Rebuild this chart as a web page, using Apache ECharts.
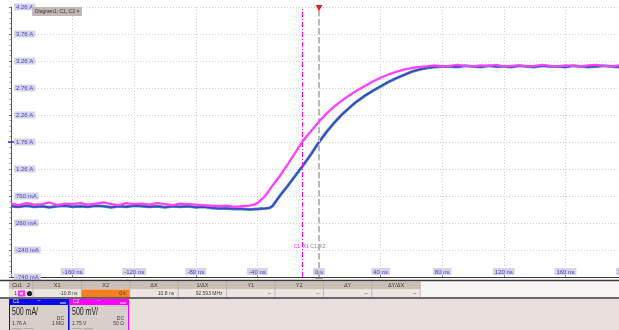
<!DOCTYPE html>
<html><head><meta charset="utf-8">
<script src="https://cdn.jsdelivr.net/npm/echarts@6/dist/echarts.min.js"></script>
<style>html,body{margin:0;padding:0;background:#fff;overflow:hidden}#c{width:619px;height:330px}</style>
</head><body><div id="c"></div>
<script>
// ---- axis ticks ----
const xTickValues = [-200,-160,-120,-80,-40,0,40,80,120,160,200];
const xTickLabels = ['', '-160 ns','-120 ns','-80 ns','-40 ns','0 s','40 ns','80 ns','120 ns','160 ns','200 ns'];
const yTickLabels = ['-740 mA','-240 mA','260 mA','760 mA','1.26 A','1.76 A','2.26 A','2.76 A','3.26 A','3.76 A','4.26 A']; // bottom -> top
const c1Offset = 1.76, c1PerDiv = 0.5;   // A
const c2Offset = 1.75, c2PerDiv = 0.5;   // V

// ---- C1 current (A) ----
const c1Time = [-200,-195,-190,-185,-180,-175,-170,-165,-160,-155,-150,-145,-140,-135,-130,-125,-120,-115,-110,-105,-100,-95,-90,-85,-80,-75,-70,-65,-60,-55,-50,-45,-40,-35,
  -32,-30,-28,-25,-20,-15,-11,-5,0,5,10,15,20,25,30,35,40,45,50,55,60,65,70,75,80,
  85,90,95,100,105,110,115,120,125,130,135,140,145,150,155,160,165,170,175,180,185,190,195,200];
const c1Amps = [0.57,0.56,0.58,0.56,0.57,0.55,0.57,0.58,0.56,0.57,0.56,0.58,0.57,0.55,0.57,0.56,0.58,0.57,0.56,0.57,0.55,0.57,0.56,0.57,0.55,0.56,0.54,0.53,0.53,0.52,0.52,0.51,0.52,0.53,
  0.54,0.58,0.66,0.78,0.96,1.15,1.30,1.54,1.76,1.95,2.12,2.27,2.40,2.52,2.62,2.71,2.79,2.87,2.94,3.00,3.06,3.10,3.13,3.15,3.16,
  3.16,3.15,3.17,3.16,3.15,3.17,3.16,3.16,3.15,3.17,3.16,3.15,3.17,3.16,3.16,3.15,3.17,3.16,3.15,3.16,3.17,3.16,3.15,3.16];

// ---- C2 voltage (V) ----
const c2Time = [-200,-195,-190,-185,-180,-175,-170,-165,-160,-155,-150,-145,-140,-135,-130,-125,-120,-115,-110,-105,-100,-95,-90,-85,-80,-75,-70,-65,-60,-55,-50,-45,
  -42,-40,-38,-36,-33,-30,-25,-20,-15,-11,-5,0,5,10,15,20,25,30,35,40,45,50,55,60,65,70,
  75,80,85,90,95,100,105,110,115,120,125,130,135,140,145,150,155,160,165,170,175,180,185,190,195,200];
const c2Volts = [0.61,0.58,0.62,0.59,0.60,0.63,0.58,0.61,0.60,0.62,0.59,0.61,0.63,0.60,0.58,0.62,0.60,0.61,0.59,0.62,0.60,0.58,0.61,0.60,0.59,0.58,0.57,0.56,0.57,0.55,0.56,0.57,
  0.59,0.62,0.67,0.72,0.83,0.95,1.14,1.35,1.57,1.75,1.96,2.13,2.28,2.41,2.52,2.62,2.71,2.79,2.87,2.94,3.00,3.05,3.09,3.12,3.14,3.15,
  3.17,3.15,3.16,3.18,3.16,3.15,3.17,3.16,3.18,3.15,3.16,3.17,3.15,3.16,3.18,3.16,3.15,3.17,3.16,3.15,3.17,3.18,3.16,3.15,3.17,3.16];

// ---- cursors ----
const cursorX1 = -10.8, cursorX2 = 0;
const tableHeaders = ['X1','X2','\u0394X','1/\u0394X','Y1','Y2','\u0394Y','\u0394Y/\u0394X'];
const tableValues = ['-10.8 ns','0 s','10.8 ns','92.593 MHz','--','--','--','--'];

const c1Data = c1Time.map((t,i)=>[t,(c1Amps[i]-c1Offset)/c1PerDiv]);
const c2Data = c2Time.map((t,i)=>[t,(c2Volts[i]-c2Offset)/c2PerDiv]);

const FONT = '"Liberation Sans", Arial, sans-serif';
const chart = echarts.init(document.getElementById('c'), null, {renderer:'canvas', width:619, height:330});
chart.setOption({
  animation:false,
  backgroundColor:'#ffffff',
  grid:{left:11, right:-8, top:7, bottom:53, containLabel:false, outerBoundsMode:'none'},
  xAxis:{type:'value', min:-200, max:200, interval:40,
    axisLine:{show:true, onZero:false, lineStyle:{color:'#3a3a3a', width:1}},
    axisTick:{show:true, inside:true, length:2, lineStyle:{color:'#888'}},
    splitLine:{show:true, lineStyle:{color:'#cfcfcf', type:[1,2], width:1}},
    axisLabel:{inside:true, margin:2, fontSize:6, fontFamily:FONT, color:'#4646dc', backgroundColor:'#d4d4e4', padding:[1,2,0,2],
      showMinLabel:true, showMaxLabel:true, hideOverlap:false,
      formatter:v=>{const i=xTickValues.indexOf(Math.round(v)); return i<0?'':xTickLabels[i];}}
  },
  yAxis:{type:'value', min:-5, max:5, interval:1,
    axisLine:{show:true, onZero:false, lineStyle:{color:'#555', width:1}},
    axisTick:{show:true, inside:false, length:2, lineStyle:{color:'#777'}},
    minorTick:{show:true, splitNumber:5, length:1.5, lineStyle:{color:'#999'}},
    splitLine:{show:true, lineStyle:{color:'#cfcfcf', type:[1,2], width:1}},
    axisLabel:{inside:true, margin:3, fontSize:6, fontFamily:FONT, color:'#4646dc', backgroundColor:'#d4d4e4', padding:[1,2,0,2],
      showMinLabel:true, showMaxLabel:true,
      formatter:v=>yTickLabels[Math.round(v+5)]}
  },
  series:[
    {type:'line', data:c1Data, symbol:'none', smooth:false, lineStyle:{color:'#3aa6a6', width:3}, z:3,
      markLine:{silent:true, symbol:['none','none'], label:{show:false},
        data:[{xAxis:cursorX1, lineStyle:{color:'#ff00ff', type:[5,2,1,2], width:1}},
              {xAxis:cursorX2, lineStyle:{color:'#b8b8b8', type:[6,3], width:2}}]}},
    {type:'line', data:c1Data, symbol:'none', lineStyle:{color:'#4c3ccc', width:1.7}, z:4},
    {type:'line', data:c2Data, symbol:'none', lineStyle:{color:'#ff40ff', width:2.3}, z:5}
  ]
});

// ---- decorations ----
const g = [];
function rect(x,y,w,h,fill,z,stroke){ g.push({type:'rect', shape:{x,y,width:w,height:h}, style:{fill, stroke:stroke||null, lineWidth:stroke?1:0}, z:z||10, silent:true}); }
function text(x,y,t,o){ o=o||{}; const al=o.align||'left';
  g.push({type:'text', x, y, scaleX:o.sx||1, style:{text:t, fill:o.fill||'#3a3a3a', font:(o.size||6)+'px '+FONT, align:al, textAlign:al, verticalAlign:'middle', textVerticalAlign:'middle'}, z:o.z||40, silent:true}); }
function line(x1,y1,x2,y2,stroke,w,z){ g.push({type:'line', shape:{x1,y1,x2,y2}, style:{stroke, lineWidth:w||1}, z:z||15, silent:true}); }

const px1 = chart.convertToPixel({gridIndex:0},[cursorX1,0]);
const px2 = chart.convertToPixel({gridIndex:0},[cursorX2,0]);
// trigger marker
g.push({type:'polygon', shape:{points:[[px2[0]-3.5,5],[px2[0]+3.5,5],[px2[0],11]]}, style:{fill:'#e4201c'}, z:30, silent:true});
// cursor labels
text(px1[0]-1,247,'C1: X1',{fill:'#ff30ff',size:5,align:'center'});
text(px2[0]-1,247,'C1: X2',{fill:'#8a8a8a',size:5,align:'center'});
// offset marker
line(8,px1[1],14,px1[1],'#3030e0',1.5,25);
// tab
rect(32,7,50,9,'#c3b9b4',25);
text(35,11.5,'Diagram1: C1, C2 \u00d7',{size:5,fill:'#333'});
// trigger pos marker below axis
rect(px2[0]-4,277.5,8,1,'#555',25);
// bottom separators
line(0,280.5,619,280.5,'#3a3a3a',1.5,25);
// table
rect(9,281.5,411,8,'#cbbfb7',20);
rect(9,289.5,411,8,'#ebe6e3',20);
rect(420,281.5,199,16,'#f8f6f5',20);
const colStart=33, colW=48.4;
text(12,285.5,'Cu',{size:5.5});
text(19,285.5,'1',{size:5.5});
text(27,285.5,'2',{size:5.5});
text(14,293.5,'1',{size:5.5});
rect(18,290.5,7,6,'#ff30ff',22);
rect(20,292.5,3,2,'#ffffff',23);
g.push({type:'circle', shape:{cx:29.5,cy:293.5,r:2.6}, style:{fill:'#222'}, z:23, silent:true});
for(let i=0;i<tableHeaders.length;i++){
  const x0=colStart+i*colW;
  line(x0+colW,281.5,x0+colW,297.5,'#b9aca4',0.8,22);
  if(i===1) rect(x0,289.5,colW,8,'#f57d22',21);
  text(x0+colW/2,285.5,tableHeaders[i],{size:5.5,align:'center'});
  text(x0+colW-4,293.5,tableValues[i],{size:5,align:'right'});
}
line(colStart,281.5,colStart,297.5,'#b9aca4',0.8,22);
line(0,298,619,298,'#3a3a3a',1.5,25);
// channel area
rect(0,299,619,31,'#e7e0dd',18);
function chBox(x,color,title,scale,cpl,off,imp){
  rect(x,299,59,6,color,22);
  rect(x,305,59,25,'#d8cfcb',21);
  line(x+0.5,299,x+0.5,330,color,1,23);
  line(x+59.5,299,x+59.5,330,color,1,23);
  text(x+4,302,title,{fill:'#fff',size:5});
  text(x+30,301.5,'\u2022\u2022\u2022',{fill:'#ddd',size:3,align:'center'});
  rect(x+51,302.5,6,1,'#ffffff',24);
  text(x+3,312.5,scale,{size:10,fill:'#222',sx:0.7});
  text(x+55,318.5,cpl,{size:5,align:'right'});
  text(x+3,323.5,off,{size:5});
  text(x+55,323.5,imp,{size:5,align:'right'});
  text(x+3,329,'\u2014\u2014 \u2014\u2014',{size:5,fill:'#777'});
}
chBox(9,'#0a0af0','C1','500 mA/','DC','1.76 A','1 M\u03a9');
chBox(69,'#ff00ff','C2','500 mV/','DC','1.75 V','50 \u03a9');
chart.setOption({graphic:{elements:g}});
</script>
</body></html>
